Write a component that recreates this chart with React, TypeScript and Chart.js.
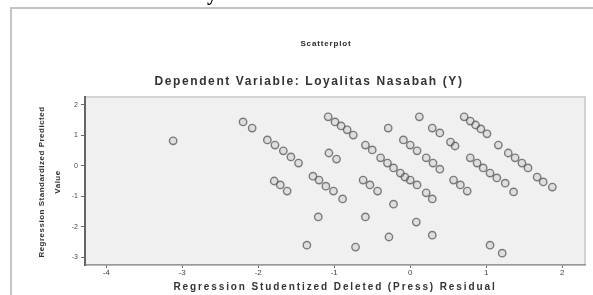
import React, { useEffect, useRef } from "react";
import { Chart, registerables } from "chart.js";

Chart.register(...registerables);

const xValues: number[] = [
  -3.12, -2.2, -2.08, -1.88, -1.78, -1.67, -1.57, -1.47, -1.79, -1.71, -1.62,
  -1.08, -0.99, -0.91, -0.83, -0.75, -1.07, -0.97, -1.28, -1.2, -1.11, -1.01,
  -0.89, -1.21, -1.36, -0.72, -0.59, -0.5, -0.39, -0.3, -0.22, -0.13, -0.07,
  0.0, 0.09, -0.62, -0.53, -0.43, -0.22, -0.59, -0.28, -0.29, 0.12, 0.29, 0.39,
  0.53, 0.59, -0.09, 0.0, 0.09, 0.21, 0.3, 0.39, 0.57, 0.66, 0.75, 0.21, 0.29,
  0.08, 0.29, 0.71, 0.79, 0.86, 0.93, 1.01, 1.16, 1.29, 1.38, 1.47, 1.55, 1.67,
  1.75, 1.87, 0.79, 0.88, 0.96, 1.05, 1.14, 1.25, 1.36, 1.05, 1.21,
];
const yValues: number[] = [
  0.82, 1.44, 1.24, 0.85, 0.68, 0.49, 0.29, 0.09, -0.5, -0.63, -0.83, 1.61,
  1.44, 1.31, 1.18, 1.01, 0.42, 0.22, -0.34, -0.47, -0.67, -0.83, -1.09, -1.68,
  -2.61, -2.67, 0.68, 0.52, 0.26, 0.09, -0.07, -0.24, -0.37, -0.47, -0.63,
  -0.47, -0.63, -0.83, -1.26, -1.68, -2.34, 1.24, 1.61, 1.24, 1.08, 0.78, 0.65,
  0.85, 0.68, 0.49, 0.26, 0.09, -0.11, -0.47, -0.63, -0.83, -0.89, -1.09, -1.85,
  -2.28, 1.61, 1.47, 1.34, 1.21, 1.05, 0.68, 0.42, 0.26, 0.09, -0.07, -0.37,
  -0.53, -0.7, 0.26, 0.09, -0.07, -0.24, -0.4, -0.57, -0.86, -2.61, -2.87,
];
const xTicks: number[] = [-4, -3, -2, -1, 0, 1, 2];
const yTicks: number[] = [2, 1, 0, -1, -2, -3];
const chartTitle = "Scatterplot";
const chartSubtitle = "Dependent Variable: Loyalitas Nasabah (Y)";
const xTitle = "Regression Studentized Deleted (Press) Residual";
const yTitle = ["Regression Standardized Predicted", "Value"];

const FONT = "'Liberation Sans', Arial, sans-serif";

const framePlugin = {
  id: "spssFrame",
  beforeDraw(chart: any) {
    const { ctx, chartArea } = chart;
    ctx.save();
    ctx.fillStyle = "#ffffff";
    ctx.fillRect(0, 0, chart.width, chart.height);
    ctx.strokeStyle = "#c4c4c4";
    ctx.lineWidth = 2;
    ctx.strokeRect(11, 8, chart.width + 20, chart.height + 20);
    ctx.fillStyle = "#f0f0f0";
    ctx.fillRect(chartArea.left, chartArea.top, chartArea.right - chartArea.left, chartArea.bottom - chartArea.top);
    ctx.strokeStyle = "#c8c8c8";
    ctx.lineWidth = 1.5;
    ctx.strokeRect(chartArea.left, chartArea.top, chartArea.right - chartArea.left, chartArea.bottom - chartArea.top);
    ctx.fillStyle = "#000";
    ctx.font = "bold 20px 'Liberation Serif', serif";
    ctx.textAlign = "center";
    ctx.textBaseline = "alphabetic";
    ctx.fillText("y", 212, 0);
    ctx.restore();
  },
  afterDraw(chart: any) {
    const { ctx, chartArea } = chart;
    ctx.save();
    ctx.textAlign = "center";
    ctx.textBaseline = "middle";
    ctx.fillStyle = "#2a2a2a";
    ctx.font = `bold 8px ${FONT}`;
    ctx.letterSpacing = "0.85px";
    ctx.fillText(chartTitle, 326, 44);
    ctx.font = `bold 12px ${FONT}`;
    ctx.letterSpacing = "1.6px";
    ctx.fillStyle = "#333";
    ctx.fillText(chartSubtitle, 309, 82);
    ctx.font = `bold 10px ${FONT}`;
    ctx.letterSpacing = "1.9px";
    ctx.fillText(xTitle, (chartArea.left + chartArea.right) / 2, 287);
    ctx.font = `bold 8px ${FONT}`;
    ctx.letterSpacing = "0.5px";
    const cy = (chartArea.top + chartArea.bottom) / 2 + 1;
    yTitle.forEach((line, i) => {
      ctx.save();
      ctx.translate(42 + i * 16, cy);
      ctx.rotate(-Math.PI / 2);
      ctx.fillText(line, 0, 0);
      ctx.restore();
    });
    ctx.restore();
  },
};

export default function App() {
  const ref = useRef<HTMLCanvasElement | null>(null);
  useEffect(() => {
    document.body.style.margin = "0";
    const canvas = ref.current;
    if (!canvas) return;
    const points = xValues.map((x, i) => ({ x, y: yValues[i] }));
    const chart = new Chart(canvas, {
      type: "scatter",
      data: {
        datasets: [
          {
            data: points,
            pointStyle: "circle",
            pointRadius: 3.7,
            pointBorderWidth: 1.4,
            pointBorderColor: "rgba(85,85,85,0.75)",
            pointBackgroundColor: "rgba(150,150,150,0.2)",
          },
        ],
      },
      options: {
        responsive: false,
        animation: false,
        devicePixelRatio: 1,
        layout: { padding: { top: 97, right: 8, left: 0, bottom: 0 } },
        plugins: { legend: { display: false }, tooltip: { enabled: false } },
        scales: {
          x: {
            type: "linear",
            min: -4.28,
            max: 2.3,
            afterFit: (s: any) => {
              s.height = 30;
            },
            afterBuildTicks: (s: any) => {
              s.ticks = xTicks.map((v) => ({ value: v }));
            },
            ticks: {
              font: { size: 8, family: FONT },
              color: "#444",
              padding: 0,
              maxRotation: 0,
              callback: (v: any) => String(v),
            },
            grid: { drawOnChartArea: false, drawTicks: true, tickLength: 3, color: "#666" },
            border: { display: true, color: "#999", width: 1.5 },
            title: { display: false, text: xTitle },
          },
          y: {
            type: "linear",
            min: -3.26,
            max: 2.26,
            afterFit: (s: any) => {
              s.width = 85;
            },
            afterBuildTicks: (s: any) => {
              s.ticks = yTicks.map((v) => ({ value: v }));
            },
            ticks: {
              font: { size: 7, family: FONT },
              color: "#444",
              padding: 3,
              callback: (v: any) => String(v),
            },
            grid: { drawOnChartArea: false, drawTicks: true, tickLength: 4, color: "#666" },
            border: { display: true, color: "#666", width: 2 },
            title: { display: false, text: yTitle },
          },
        },
      },
      plugins: [framePlugin],
    });
    return () => chart.destroy();
  }, []);
  return (
    <div style={{ position: "absolute", left: 0, top: 0, width: 593, height: 295 }}>
      <canvas ref={ref} width={593} height={295} style={{ width: 593, height: 295, display: "block" }} />
    </div>
  );
}
